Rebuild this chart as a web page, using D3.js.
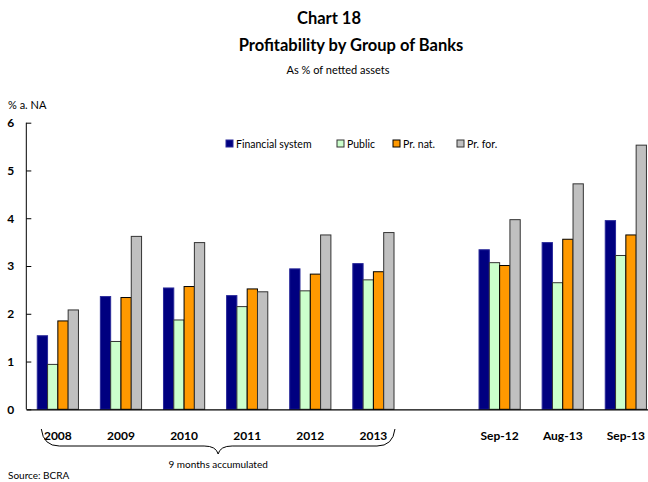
<!DOCTYPE html>
<html>
<head>
<meta charset="utf-8">
<script src="https://cdn.jsdelivr.net/npm/d3@7"></script>
<style>
  html, body { margin: 0; padding: 0; background: #fff; }
  svg { display: block; font-family: Lato, "Open Sans", sans-serif; }
</style>
</head>
<body>
<svg id="chart" width="648" height="482"></svg>
<script>
// Period labels along the x axis ("" marks the spacer slot between the two blocks)
const periods = ["2008", "2009", "2010", "2011", "2012", "2013", "", "Sep-12", "Aug-13", "Sep-13"];

// Return on netted assets, % annualized, by bank group
const seriesNames = ["Financial system", "Public", "Pr. nat.", "Pr. for."];
const financialSystem = [1.54, 2.36, 2.54, 2.38, 2.94, 3.05, null, 3.34, 3.49, 3.95];
const publicBanks     = [0.94, 1.42, 1.87, 2.15, 2.48, 2.71, null, 3.07, 2.65, 3.22];
const privateNational = [1.85, 2.34, 2.57, 2.52, 2.83, 2.88, null, 3.01, 3.56, 3.65];
const privateForeign  = [2.08, 3.62, 3.49, 2.46, 3.65, 3.70, null, 3.97, 4.72, 5.53];

const yTicks = [0, 1, 2, 3, 4, 5, 6];

const fills   = ["#000080", "#ccffcc", "#ff9900", "#c0c0c0"];
const strokes = ["#2a2a9a", "#333333", "#000000", "#333333"];

const svg = d3.select("#chart");

const plotLeft = 26.3, plotRight = 657.4, plotTop = 122.7, plotBottom = 409.3;

const x = d3.scaleBand().domain(d3.range(periods.length)).range([plotLeft, plotRight]).padding(0);
const y = d3.scaleLinear().domain([0, 6]).range([plotBottom, plotTop]);
const barW = 10.3;
const sub = d3.scaleBand().domain(d3.range(4)).range([0, barW * 4]);

// Titles
svg.append("text").attr("x", 329).attr("y", 24).attr("text-anchor", "middle")
  .attr("font-weight", "bold").attr("font-size", 16.5).text("Chart 18");
svg.append("text").attr("x", 351).attr("y", 51).attr("text-anchor", "middle")
  .attr("font-weight", "bold").attr("font-size", 16.5).text("Profitability by Group of Banks");
svg.append("text").attr("x", 338).attr("y", 74).attr("text-anchor", "middle")
  .attr("font-size", 11).text("As % of netted assets");

// Unit label
svg.append("text").attr("x", 8).attr("y", 109).attr("font-size", 11).text("% a. NA");

// Bars
const allSeries = [financialSystem, publicBanks, privateNational, privateForeign];
allSeries.forEach((vals, si) => {
  svg.append("g").selectAll("rect")
    .data(vals.map((v, i) => ({ v, i })).filter(d => d.v != null))
    .join("rect")
    .attr("x", d => x(d.i) + (x.bandwidth() - barW * 4) / 2 + sub(si))
    .attr("y", d => y(d.v))
    .attr("width", barW)
    .attr("height", d => y(0) - y(d.v))
    .attr("fill", fills[si])
    .attr("stroke", strokes[si])
    .attr("stroke-width", 1);
});

// Y axis
const yAxis = d3.axisLeft(y).tickValues(yTicks).tickSize(-5).tickPadding(12).tickFormat(d3.format("d"));
const gy = svg.append("g").attr("transform", `translate(${plotLeft},0)`).call(yAxis);
gy.select(".domain").attr("stroke", "#000").attr("d", `M0,${plotTop}V${plotBottom}`);
gy.selectAll(".tick line").attr("stroke", "#000");
gy.selectAll(".tick text").attr("font-weight", "bold").attr("font-size", 12)
  .attr("font-family", "Lato, sans-serif").attr("fill", "#000");

// X axis baseline and labels
const xAxis = d3.axisBottom(x).tickSize(0).tickPadding(22).tickFormat(i => periods[i]);
const gx = svg.append("g").attr("transform", `translate(0,${plotBottom})`).call(xAxis);
gx.select(".domain").attr("stroke", "#000").attr("stroke-width", 1.2);
gx.selectAll(".tick text").attr("font-weight", "bold").attr("font-size", 12)
  .attr("font-family", "Lato, sans-serif").attr("fill", "#000");

// Brace under the annual periods
const bx0 = x(0) + 15, bx1 = x(5) + x.bandwidth() - 10, bmid = (bx0 + bx1) / 2;
const by0 = 429, by1 = 446, by2 = 454;
svg.append("path")
  .attr("d", `M${bx0},${by0} Q${bx0 + 2},${by1} ${bx0 + 18},${by1} L${bmid - 14},${by1} Q${bmid - 2},${by1} ${bmid},${by2} Q${bmid + 2},${by1} ${bmid + 14},${by1} L${bx1 - 18},${by1} Q${bx1 - 2},${by1} ${bx1},${by0}`)
  .attr("fill", "none").attr("stroke", "#000").attr("stroke-width", 1);
svg.append("text").attr("x", bmid).attr("y", 468).attr("text-anchor", "middle")
  .attr("font-size", 10).text("9 months accumulated");

// Legend
const legendX = [226, 337, 393, 457];
seriesNames.forEach((name, i) => {
  const g = svg.append("g").attr("transform", `translate(${legendX[i]},140)`);
  g.append("rect").attr("width", 7).attr("height", 7)
    .attr("fill", fills[i]).attr("stroke", strokes[i]).attr("stroke-width", 1);
  g.append("text").attr("x", 10).attr("y", 7.5).attr("font-size", 10.5).text(name);
});

// Source
svg.append("text").attr("x", 8).attr("y", 479).attr("font-size", 10).text("Source: BCRA");
</script>
</body>
</html>
